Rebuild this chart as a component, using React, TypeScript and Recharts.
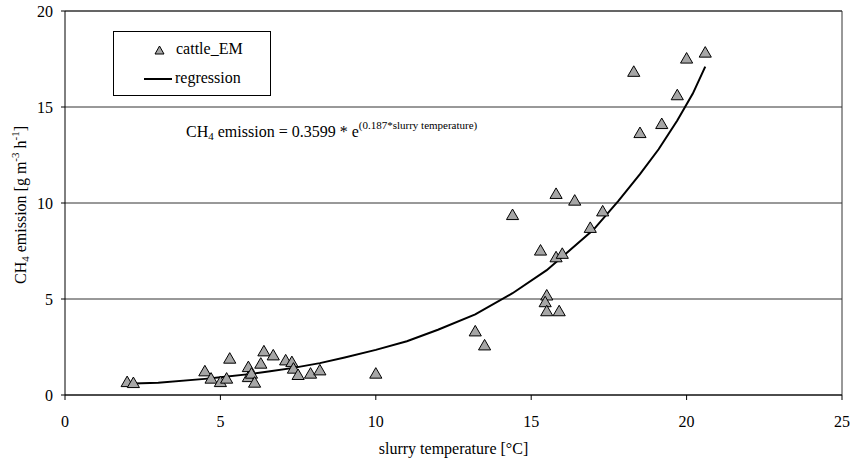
import React from 'react';
import {
  ScatterChart,
  Scatter,
  XAxis,
  YAxis,
  ZAxis,
  CartesianGrid,
  Legend,
  ReferenceLine,
  Customized
} from 'recharts';

// measured slurry temperature [°C] and CH4 emission for cattle_EM
const tempC = [
  2.0, 2.2, 4.5, 4.7, 5.0, 5.2, 5.3, 5.9, 5.9, 6.0, 6.1, 6.3, 6.4, 6.7,
  7.1, 7.3, 7.35, 7.5, 7.9, 8.2, 10.0, 13.2, 13.5, 14.4, 15.3, 15.5, 15.45,
  15.5, 15.9, 15.8, 16.0, 15.8, 16.4, 16.9, 17.3, 18.3, 18.5, 19.2, 19.7,
  20.0, 20.6
];
const emission = [
  0.62, 0.57, 1.18, 0.8, 0.62, 0.8, 1.84, 1.4, 0.88, 1.06, 0.59, 1.58, 2.22,
  2.01, 1.75, 1.66, 1.32, 0.99, 1.06, 1.23, 1.06, 3.26, 2.53, 9.32, 7.47,
  5.13, 4.78, 4.31, 4.31, 7.12, 7.3, 10.42, 10.07, 8.65, 9.51, 16.78, 13.59,
  14.06, 15.56, 17.47, 17.78
];

// regression curve
const regTemp = [2.2, 3.0, 4.5, 5.0, 6.0, 6.6, 7.3, 8.2, 9.0, 10, 11, 12, 13.2, 14.4, 15.5, 16, 17, 17.8, 18.5, 19.1, 19.7, 20.2, 20.6];
const regEmission = [0.6, 0.64, 0.84, 0.92, 1.1, 1.24, 1.4, 1.66, 1.95, 2.35, 2.8, 3.4, 4.2, 5.3, 6.5, 7.2, 8.6, 10.1, 11.5, 12.8, 14.3, 15.7, 17.1];

const xTicks = [0, 5, 10, 15, 20, 25];
const yTicks = [0, 5, 10, 15, 20];

const FONT = 'Liberation Serif, DejaVu Serif, serif';

const points = tempC.map((t, i) => ({ t, e: emission[i] }));
const regression = regTemp.map((t, i) => ({ t, e: regEmission[i] }));

const NoDot = () => <g />;

const LegendBox = () => (
  <div
    style={{
      width: 156,
      height: 63,
      border: '1px solid #000',
      background: '#fff',
      fontFamily: FONT,
      fontSize: 16,
      lineHeight: '18px',
      color: '#000',
      position: 'relative'
    }}
  >
    <svg width={11} height={10} style={{ position: 'absolute', left: 40, top: 13 }}>
      <polygon points="5.5,1 10,9 1,9" fill="#a6a6a6" stroke="#000" strokeWidth={1} />
    </svg>
    <span style={{ position: 'absolute', left: 62, top: 8 }}>cattle_EM</span>
    <div style={{ position: 'absolute', left: 30, top: 46, width: 28, height: 2, background: '#000' }} />
    <span style={{ position: 'absolute', left: 61, top: 37 }}>regression</span>
  </div>
);

const Annotations = () => (
  <g fontFamily={FONT} fill="#000">
    <text x={186} y={137} fontSize={16}>
      CH<tspan fontSize={11} dy={3}>4</tspan>
      <tspan dy={-3}> emission = 0.3599 * e</tspan>
      <tspan fontSize={11} dy={-8}>(0.187*slurry temperature)</tspan>
    </text>
    <text x={0} y={0} fontSize={16} transform="translate(26, 205) rotate(-90)" textAnchor="middle">
      CH<tspan fontSize={11} dy={3}>4</tspan>
      <tspan dy={-3}> emission [g m</tspan>
      <tspan fontSize={11} dy={-7}>-3</tspan>
      <tspan dy={7}> h</tspan>
      <tspan fontSize={11} dy={-7}>-1</tspan>
      <tspan dy={7}>]</tspan>
    </text>
  </g>
);

const App: React.FC = () => {
  return (
    <div style={{ position: 'absolute', left: 0, top: 0, background: '#fff', fontFamily: FONT }}>
      <ScatterChart
        width={851}
        height={465}
        margin={{ top: 11, right: 9, bottom: 0, left: 0 }}
        style={{ fontFamily: FONT }}
      >
        <CartesianGrid horizontal vertical={false} stroke="#333" strokeWidth={1} />
        <XAxis
          type="number"
          dataKey="t"
          domain={[0, 25]}
          ticks={xTicks}
          height={70}
          tickSize={5}
          tickMargin={16}
          stroke="#000"
          tick={{ fill: '#000', fontSize: 16, fontFamily: FONT }}
          label={{
            value: 'slurry temperature [°C]',
            position: 'insideBottom',
            offset: 11,
            fill: '#000',
            fontSize: 16,
            fontFamily: FONT
          }}
          allowDataOverflow
        />
        <YAxis
          type="number"
          dataKey="e"
          domain={[0, 20]}
          ticks={yTicks}
          width={65}
          tickSize={4}
          tickMargin={8}
          stroke="#000"
          tick={{ fill: '#000', fontSize: 16, fontFamily: FONT }}
          allowDataOverflow
        />
        <ZAxis range={[42, 42]} />
        <ReferenceLine x={25} stroke="#333" />
        <ReferenceLine y={20} stroke="#333" />
        <Scatter
          name="regression"
          data={regression}
          line={{ stroke: '#000', strokeWidth: 2 }}
          shape={NoDot}
          isAnimationActive={false}
        />
        <Scatter
          name="cattle_EM"
          data={points}
          shape="triangle"
          fill="#a6a6a6"
          stroke="#000"
          strokeWidth={1}
          isAnimationActive={false}
        />
        <Legend
          layout="horizontal"
          verticalAlign="middle"
          align="center"
          content={<LegendBox />}
          wrapperStyle={{ left: 113, top: 31, width: 158, height: 65 }}
        />
        <Customized component={Annotations} />
      </ScatterChart>
    </div>
  );
};

export default App;
